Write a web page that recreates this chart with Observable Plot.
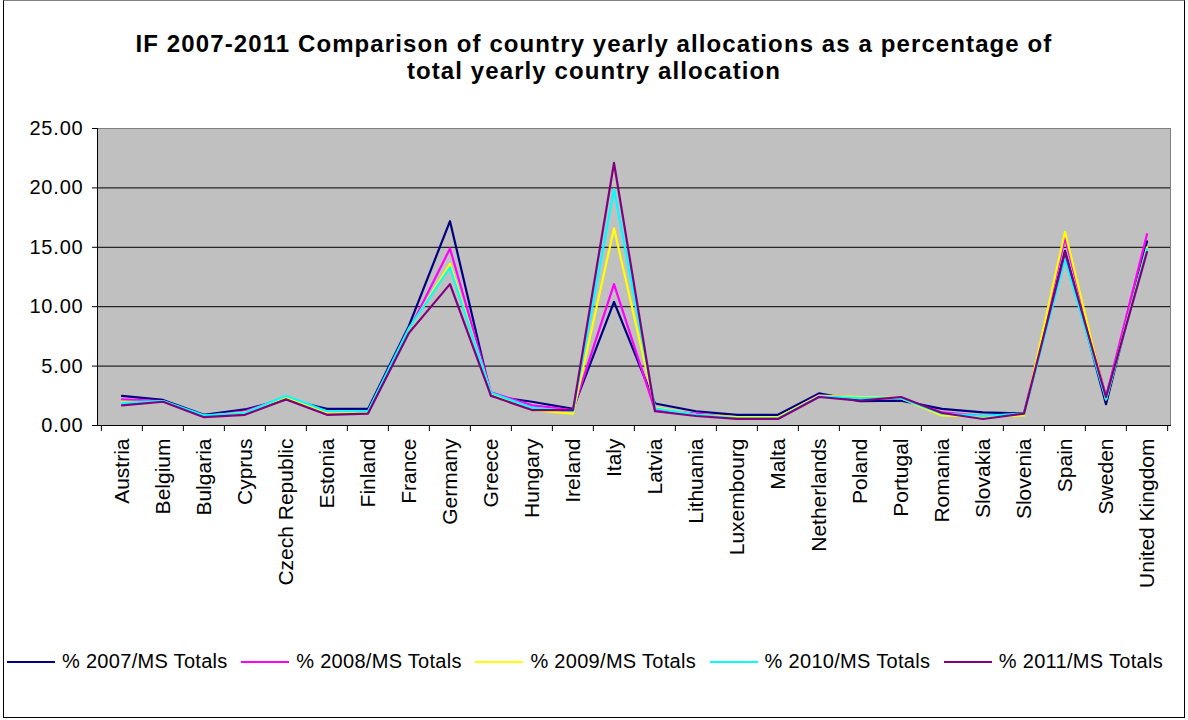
<!DOCTYPE html>
<html>
<head>
<meta charset="utf-8">
<script src="https://cdn.jsdelivr.net/npm/d3@7"></script>
<script src="https://cdn.jsdelivr.net/npm/@observablehq/plot@0.6"></script>
<style>
  body { margin: 0; background: #fff; font-family: "Liberation Sans", Arial, sans-serif; }
  #page { position: relative; width: 1188px; height: 720px; overflow: hidden; }
  #border { position: absolute; left: 3px; top: 0; width: 1182px; height: 718px; box-sizing: border-box; border: 1px solid #000; border-top-color: #808080; }
  #title { position: absolute; left: 0; top: 30px; width: 1188px; text-align: center; font-weight: bold; font-size: 24px; line-height: 27px; letter-spacing: 1.1px; color: #000; }
  #chart { position: absolute; left: 0; top: 100px; }
  #legend { position: absolute; left: 7px; top: 650px; width: 1156px; display: flex; justify-content: space-between; align-items: center; font-size: 20px; letter-spacing: 0.3px; color: #000; }
  .item { display: flex; align-items: center; white-space: nowrap; }
  .swatch { width: 48px; height: 2px; margin-right: 7px; }
  #chart g[aria-label="y-axis tick label"] { letter-spacing: 0.8px; }
</style>
</head>
<body>
<div id="page">
  <div id="border"></div>
  <div id="title">IF 2007-2011 Comparison of country yearly allocations as a percentage of<br>total yearly country allocation</div>
  <div id="chart"></div>
  <div id="legend"></div>
</div>
<script>
const countries = ["Austria","Belgium","Bulgaria","Cyprus","Czech Republic","Estonia","Finland","France","Germany","Greece","Hungary","Ireland","Italy","Latvia","Lithuania","Luxembourg","Malta","Netherlands","Poland","Portugal","Romania","Slovakia","Slovenia","Spain","Sweden","United Kingdom"];
const seriesNames = ["% 2007/MS Totals","% 2008/MS Totals","% 2009/MS Totals","% 2010/MS Totals","% 2011/MS Totals"];
const seriesColors = ["#000080","#FF00FF","#FFFF00","#00FFFF","#800080"];
const yTicks = [0, 5, 10, 15, 20, 25];

const v2007 = [2.5, 2.15, 0.9, 1.35, 2.2, 1.4, 1.4, 8.4, 17.2, 2.5, 2.0, 1.4, 10.4, 1.85, 1.2, 0.9, 0.9, 2.7, 2.05, 2.1, 1.4, 1.1, 1.0, 14.7, 1.8, 15.5];
const v2008 = [2.2, 2.05, 0.8, 1.2, 2.4, 1.1, 1.1, 8.0, 14.9, 2.8, 1.7, 1.3, 11.9, 1.3, 1.0, 0.65, 0.65, 2.55, 2.3, 2.3, 1.1, 0.8, 0.95, 15.8, 2.4, 16.1];
const v2009 = [2.0, 2.0, 0.8, 1.1, 2.35, 1.1, 1.15, 8.1, 13.6, 2.7, 1.3, 1.0, 16.6, 1.5, 0.9, 0.7, 0.7, 2.5, 2.4, 2.3, 0.85, 0.75, 0.85, 16.3, 2.2, 15.0];
const v2010 = [1.9, 2.05, 0.85, 1.05, 2.5, 1.2, 1.2, 8.2, 13.3, 2.75, 1.5, 1.2, 19.9, 1.45, 0.9, 0.6, 0.6, 2.45, 2.3, 2.3, 1.0, 0.8, 1.0, 14.0, 2.2, 14.85];
const v2011 = [1.7, 2.0, 0.7, 0.9, 2.2, 0.9, 1.0, 7.8, 11.9, 2.5, 1.3, 1.3, 22.1, 1.2, 0.8, 0.55, 0.55, 2.4, 2.1, 2.4, 1.05, 0.55, 1.0, 14.6, 2.4, 14.6];

const seriesValues = [v2007, v2008, v2009, v2010, v2011];
const data = countries.flatMap((c, i) => seriesNames.map((s, j) => ({country: c, series: s, value: seriesValues[j][i]})));

const W = 1188, H = 540, mL = 97, mR = 18, mT = 28, mB = 215;
const bw = (W - mL - mR) / countries.length;

const chart = Plot.plot({
  width: W, height: H,
  marginTop: mT, marginBottom: mB, marginLeft: mL, marginRight: mR,
  style: {fontFamily: "Liberation Sans, Arial, sans-serif", fontSize: "20px", color: "#000", background: "transparent", overflow: "visible"},
  x: {type: "band", domain: countries, padding: 0, label: null},
  y: {domain: [0, 25], label: null},
  color: {domain: seriesNames, range: seriesColors},
  marks: [
    Plot.frame({fill: "#c0c0c0", stroke: "#808080"}),
    Plot.gridY(yTicks.filter(d => d > 0 && d < 25), {stroke: "#000", strokeOpacity: 1}),
    Plot.line(data, {x: "country", y: "value", z: "series", stroke: "series", strokeWidth: 2.2}),
    Plot.frame({anchor: "left", stroke: "#000"}),
    Plot.frame({anchor: "bottom", stroke: "#000"}),
    Plot.axisY(yTicks, {tickFormat: d => d.toFixed(2), tickSize: 5, tickPadding: 9, label: null, fontSize: 20, stroke: "#000"}),
    Plot.axisX({tickSize: 0, tickPadding: 13, tickRotate: -90, label: null, fontSize: 21}),
    Plot.axisX({tickSize: 6, tickFormat: () => "", label: null, dx: -bw / 2}),
    Plot.axisX([countries[countries.length - 1]], {tickSize: 6, tickFormat: () => "", label: null, dx: bw / 2})
  ]
});
document.getElementById("chart").appendChild(chart);

const legend = document.getElementById("legend");
seriesNames.forEach((name, i) => {
  const item = document.createElement("div");
  item.className = "item";
  const sw = document.createElement("span");
  sw.className = "swatch";
  sw.style.background = seriesColors[i];
  const label = document.createElement("span");
  label.textContent = name;
  item.appendChild(sw);
  item.appendChild(label);
  legend.appendChild(item);
});
</script>
</body>
</html>
